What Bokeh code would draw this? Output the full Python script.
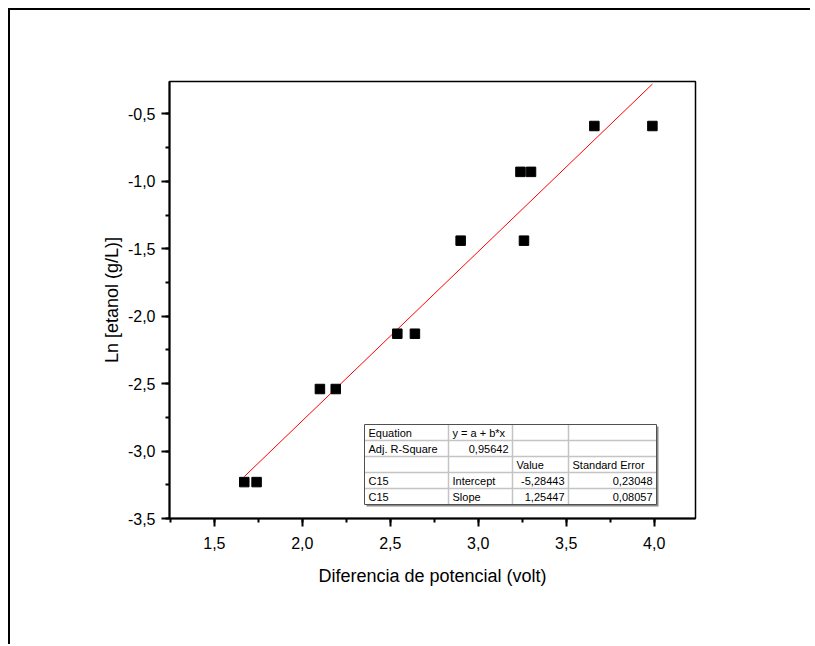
from bokeh.plotting import figure
from bokeh.models import SingleIntervalTicker, CustomJSTickFormatter, Range1d, ColumnDataSource
from bokeh.core.properties import value
from bokeh.embed import file_html
from bokeh.resources import INLINE

# ---- data ----
voltage = [1.67, 1.74, 2.10, 2.19, 2.54, 2.64, 2.90, 3.24, 3.30, 3.26, 3.66, 3.99]
ln_etanol = [-3.23, -3.23, -2.54, -2.54, -2.13, -2.13, -1.44, -0.93, -0.93, -1.44, -0.59, -0.59]
fit_intercept = -5.28443
fit_slope = 1.25447

table_rows = [
    ["Equation", "y = a + b*x", "", ""],
    ["Adj. R-Square", "0,95642", "", ""],
    ["", "", "Value", "Standard Error"],
    ["C15", "Intercept", "-5,28443", "0,23048"],
    ["C15", "Slope", "1,25447", "0,08057"],
]
table_right_aligned = [
    [False, False, False, False],
    [False, True, False, False],
    [False, False, False, False],
    [False, False, True, True],
    [False, False, True, True],
]

X0, X1 = 1.245, 4.235
Y0, Y1 = -3.5, -0.26
FW, FH = 526, 437
FONT = "Liberation Sans"

p = figure(
    frame_width=FW, frame_height=FH,
    min_border_left=159, min_border_top=71, min_border_right=115, min_border_bottom=126,
    x_range=Range1d(X0, X1), y_range=Range1d(Y0, Y1),
    output_backend="svg", toolbar_location=None,
    styles={"border-left": "2px solid black", "border-top": "2px solid black",
            "border-right": "none", "border-bottom": "none",
            "margin-left": "8px", "margin-top": "8px", "outline": "none",
            "box-shadow": "none"},
)
p.grid.visible = False
p.outline_line_color = "black"
p.outline_line_width = 1.5
p.background_fill_color = "white"
p.border_fill_color = "white"

fmt = CustomJSTickFormatter(code="return tick.toFixed(1).replace('.', ',');")
p.xaxis.ticker = SingleIntervalTicker(interval=0.5, num_minor_ticks=2)
p.yaxis.ticker = SingleIntervalTicker(interval=0.5, num_minor_ticks=2)
for ax in (p.xaxis[0], p.yaxis[0]):
    ax.formatter = fmt
    ax.axis_line_width = 2
    ax.major_tick_line_width = 2
    ax.minor_tick_line_width = 2
    ax.major_tick_out = 8
    ax.major_tick_in = 0
    ax.minor_tick_out = 4
    ax.minor_tick_in = 0
    ax.major_label_text_font = FONT
    ax.major_label_text_font_size = "16px"
    ax.major_label_text_color = "black"
    ax.axis_label_text_font = FONT
    ax.axis_label_text_font_size = "18px"
    ax.axis_label_text_font_style = "normal"
    ax.axis_label_text_color = "black"

p.xaxis.axis_label = "Diferencia de potencial (volt)"
p.yaxis.axis_label = "Ln [etanol (g/L)]"
p.xaxis.major_label_standoff = 10
p.yaxis.major_label_standoff = 6
p.xaxis.axis_label_standoff = 14
p.yaxis.axis_label_standoff = 3

# fit line
xs_fit = [min(voltage), max(voltage)]
ys_fit = [fit_intercept + fit_slope * v for v in xs_fit]
p.line(xs_fit, ys_fit, line_color="red", line_width=1)

# data points
p.scatter(voltage, ln_etanol, marker="square", size=9.5, fill_color="black", line_color="black")

# ---- table (layout in frame pixels) ----
def px2x(px):
    return X0 + px / FW * (X1 - X0)

def px2y(py):
    return Y1 - py / FH * (Y1 - Y0)

col_px = [195, 279, 343, 399, 487]
row_top_px = 343
row_h = 16
n_rows = len(table_rows)
t_left, t_right = px2x(col_px[0]), px2x(col_px[-1])
t_top, t_bot = px2y(row_top_px), px2y(row_top_px + n_rows * row_h)

# shadow
p.quad(left=px2x(col_px[0] + 2), right=px2x(col_px[-1] + 2),
       top=px2y(row_top_px + 2), bottom=px2y(row_top_px + n_rows * row_h + 2),
       fill_color="#8a8a8a", line_color=None)
p.quad(left=t_left, right=t_right, top=t_top, bottom=t_bot,
       fill_color="white", line_color=None)

# inner lines
x0s, y0s, x1s, y1s = [], [], [], []
for r in range(1, n_rows):
    y = px2y(row_top_px + r * row_h)
    x0s.append(t_left); x1s.append(t_right); y0s.append(y); y1s.append(y)
for c in col_px[1:-1]:
    x = px2x(c)
    x0s.append(x); x1s.append(x); y0s.append(t_top); y1s.append(t_bot)
p.segment(x0s, y0s, x1s, y1s, line_color="#c4c4c4", line_width=1.5)
p.quad(left=t_left, right=t_right, top=t_top, bottom=t_bot,
       fill_color=None, line_color="#505050", line_width=1)

# cell texts
tx, ty, tt, ta, to = [], [], [], [], []
for r, row in enumerate(table_rows):
    for c, txt in enumerate(row):
        if not txt:
            continue
        right = table_right_aligned[r][c]
        tx.append(px2x(col_px[c + 1]) if right else px2x(col_px[c]))
        ty.append(px2y(row_top_px + r * row_h + row_h / 2))
        tt.append(txt)
        ta.append("right" if right else "left")
        to.append(-4 if right else 4)
src = ColumnDataSource(dict(x=tx, y=ty, text=tt, align=ta, off=to))
p.text("x", "y", text="text", source=src, text_align="align", x_offset="off",
       text_baseline="middle", text_font=value(FONT), text_font_size="11px",
       text_color="black")

open("out.html", "w").write(file_html(p, INLINE))
